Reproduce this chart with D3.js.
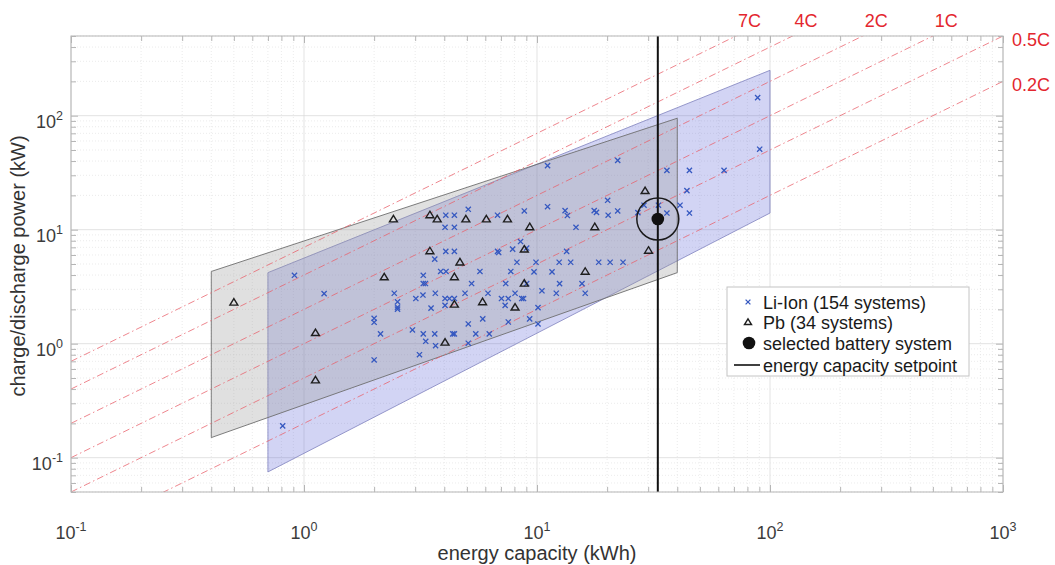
<!DOCTYPE html>
<html>
<head>
<meta charset="utf-8">
<script src="https://cdn.jsdelivr.net/npm/d3@7"></script>
<style>
  body { margin: 0; background: #fff; }
  text { font-family: "Liberation Sans", Arial, Helvetica, sans-serif; }
</style>
</head>
<body>
<svg id="chart" width="1055" height="565"></svg>
<script>
// ---- data ----------------------------------------------------------------
// Li-Ion home storage systems: energy capacity (kWh) and charge/discharge power (kW)
const liIonEnergy = [0.81, 0.91, 1.22, 2.00, 2.00, 2.00, 2.13, 2.44, 2.52, 2.52, 2.52, 2.92, 3.02, 3.13, 3.24,
  3.25, 3.25, 3.32, 3.25, 3.33, 3.51, 3.64, 3.66, 3.64, 3.67, 3.86, 4.07, 4.03, 4.03, 4.21,
  4.42, 4.06, 4.42, 4.03, 4.42, 4.06, 4.42, 4.35, 4.42, 4.91, 5.07, 5.07, 5.07, 5.24, 5.46,
  5.69, 5.85, 6.16, 6.24, 6.77, 6.77, 6.85, 7.04, 7.34, 7.30, 7.53, 7.53, 7.72, 7.86, 8.05,
  8.20, 8.50, 8.60, 8.75, 9.03, 9.03, 8.82, 9.30, 9.71, 9.90, 10.1, 10.1, 10.5, 11.1, 11.1,
  11.6, 12.1, 12.45, 12.5, 13.2, 13.5, 13.4, 13.95, 14.7, 15.6, 16.1, 17.6, 18.0, 18.4, 20.1,
  20.2, 20.6, 22.2, 22.2, 23.4, 27.1, 28.8, 33.2, 36.1, 36.1, 41.1, 44.0, 45.1, 45.1, 63.5,
  88.5, 90.3];
const liIonPower = [0.19, 3.98, 2.75, 1.67, 1.54, 0.72, 1.22, 2.77, 2.33, 2.09, 2.01, 1.32, 2.49, 0.80, 2.67,
  3.98, 3.37, 3.37, 1.22, 1.05, 2.05, 5.52, 2.77, 1.22, 0.96, 4.30, 4.30, 2.49, 2.17, 2.49,
  2.49, 6.46, 6.46, 10.5, 10.5, 13.4, 13.4, 1.22, 1.22, 2.77, 15.1, 1.49, 1.01, 3.37, 1.22,
  4.30, 1.65, 2.77, 1.22, 13.4, 6.46, 6.30, 2.49, 3.37, 2.17, 2.49, 1.55, 4.30, 6.75, 2.77,
  5.18, 7.87, 2.49, 2.49, 6.90, 3.37, 14.6, 1.65, 4.26, 5.18, 2.07, 1.49, 2.91, 36.5, 15.9,
  4.26, 2.77, 5.18, 3.36, 14.7, 13.3, 6.45, 5.18, 10.5, 3.36, 2.77, 14.7, 14.2, 5.18, 18.1,
  13.4, 5.18, 40.5, 14.6, 5.18, 14.1, 16.4, 16.4, 33.1, 14.0, 16.4, 22.0, 33.1, 14.0, 33.1,
  144, 50.8];

// Lead-acid (Pb) systems
const pbEnergy = [0.50, 1.12, 1.12, 2.21, 2.42, 3.47, 3.73, 4.95, 6.06, 7.47, 9.31, 17.7, 29.1, 30.1,
  8.82, 4.67, 3.47, 16.1, 8.82, 5.84, 4.42, 4.42, 8.05, 4.03];
const pbPower = [2.31, 1.25, 0.48, 3.85, 12.4, 13.5, 12.4, 12.4, 12.4, 12.4, 10.6, 10.6, 22.0, 6.59,
  6.75, 5.2, 6.52, 4.31, 3.39, 2.33, 3.86, 2.22, 2.09, 1.03];

// Market regions (outline vertices, kWh / kW)
const liIonRegionEnergy = [0.7, 100, 100, 0.7];
const liIonRegionPower  = [4.2, 250, 14, 0.075];
const pbRegionEnergy = [0.4, 40, 40, 0.4];
const pbRegionPower  = [4.3, 95, 4.2, 0.15];

// C-rate reference lines (P = rate * E)
const cRates = [7, 4, 2, 1, 0.5, 0.2];
const cRateLabels = ["7C", "4C", "2C", "1C", "0.5C", "0.2C"];

// Setpoint and selected system
const capacitySetpoint = 33;
const selectedSystem = { energy: 33, power: 12.4 };

// Axis decades
const xDecades = [-1, 0, 1, 2, 3];
const yDecades = [-1, 0, 1, 2];

const legendLabels = ["Li-Ion (154 systems)", "Pb (34 systems)", "selected battery system", "energy capacity setpoint"];

// ---- layout --------------------------------------------------------------
const box = { left: 71, right: 1003, top: 36, bottom: 492 };
const svg = d3.select("#chart");

const x = d3.scaleLog().domain([0.1, 1000]).range([box.left, box.right]);
const y = d3.scaleLog().domain([0.05, 500]).range([box.bottom, box.top]);

svg.append("defs").append("clipPath").attr("id", "plotclip")
  .append("rect").attr("x", box.left).attr("y", box.top)
  .attr("width", box.right - box.left).attr("height", box.bottom - box.top);

// ---- grid ----------------------------------------------------------------
const isDecade = v => Math.abs(Math.log10(v) - Math.round(Math.log10(v))) < 1e-9;
const xTicksAll = x.ticks();
const yTicksAll = y.ticks();
const grid = svg.append("g");
grid.selectAll("line.gx").data(xTicksAll).join("line")
  .attr("x1", d => x(d)).attr("x2", d => x(d))
  .attr("y1", box.top).attr("y2", box.bottom)
  .attr("stroke", d => isDecade(d) ? "#dcdcdc" : "#e6e6e6")
  .attr("stroke-width", 0.8)
  .attr("stroke-dasharray", d => isDecade(d) ? null : "1,2");
grid.selectAll("line.gy").data(yTicksAll).join("line")
  .attr("y1", d => y(d)).attr("y2", d => y(d))
  .attr("x1", box.left).attr("x2", box.right)
  .attr("stroke", d => isDecade(d) ? "#dcdcdc" : "#e6e6e6")
  .attr("stroke-width", 0.8)
  .attr("stroke-dasharray", d => isDecade(d) ? null : "1,2");

// ---- regions -------------------------------------------------------------
const plotArea = svg.append("g").attr("clip-path", "url(#plotclip)");
const regionLine = d3.line().x(d => x(d[0])).y(d => y(d[1]));

plotArea.append("path")
  .attr("d", regionLine(d3.zip(liIonRegionEnergy, liIonRegionPower)) + "Z")
  .attr("fill", "rgb(90,95,215)").attr("fill-opacity", 0.27)
  .attr("stroke", "#8a8cc4").attr("stroke-width", 0.9);

plotArea.append("path")
  .attr("d", regionLine(d3.zip(pbRegionEnergy, pbRegionPower)) + "Z")
  .attr("fill", "#999").attr("fill-opacity", 0.3)
  .attr("stroke", "#6e6e6e").attr("stroke-width", 0.9);

// ---- C-rate lines --------------------------------------------------------
const eSpan = x.domain();
cRates.forEach(r => {
  plotArea.append("path")
    .attr("d", regionLine(eSpan.map(e => [e, r * e])))
    .attr("fill", "none")
    .attr("stroke", "#e8606a").attr("stroke-opacity", 0.85)
    .attr("stroke-width", 0.9)
    .attr("stroke-dasharray", "7,3,1.5,3");
});

const pMax = y.domain()[1], eMax = x.domain()[1];
cRates.forEach((r, i) => {
  const t = svg.append("text")
    .attr("fill", "#e3262e").attr("font-size", 18)
    .text(cRateLabels[i]);
  if (r * eMax > pMax) {
    t.attr("x", x(pMax / r) + 2).attr("y", 27);
  } else {
    t.attr("x", box.right + 9).attr("y", y(r * eMax) + 10);
  }
});

// ---- markers -------------------------------------------------------------
const pts = svg.append("g");
const crossPath = s => `M${-s},${-s}L${s},${s}M${-s},${s}L${s},${-s}`;
pts.selectAll("path.li").data(d3.zip(liIonEnergy, liIonPower)).join("path")
  .attr("transform", d => `translate(${x(d[0])},${y(d[1])})`)
  .attr("d", crossPath(2.6))
  .attr("stroke", "#3558c0").attr("stroke-width", 1.3).attr("fill", "none");

const triPath = s => `M0,${-s}L${s * 1.1},${s * 0.8}L${-s * 1.1},${s * 0.8}Z`;
pts.selectAll("path.pb").data(d3.zip(pbEnergy, pbPower)).join("path")
  .attr("transform", d => `translate(${x(d[0])},${y(d[1])})`)
  .attr("d", triPath(3.6))
  .attr("stroke", "#1e1e1e").attr("stroke-width", 1.4).attr("fill", "none");

// setpoint line
svg.append("line")
  .attr("x1", x(capacitySetpoint)).attr("x2", x(capacitySetpoint))
  .attr("y1", box.top).attr("y2", box.bottom)
  .attr("stroke", "#111").attr("stroke-width", 2);

// selected system
svg.append("circle")
  .attr("cx", x(selectedSystem.energy)).attr("cy", y(selectedSystem.power))
  .attr("r", 21).attr("fill", "none").attr("stroke", "#1a1a1a").attr("stroke-width", 1.5);
svg.append("circle")
  .attr("cx", x(selectedSystem.energy)).attr("cy", y(selectedSystem.power))
  .attr("r", 6.3).attr("fill", "#111");

// ---- axes ----------------------------------------------------------------
const axisColor = "#b5b5b5";
const axes = svg.append("g");
function styleAxis(g) {
  g.select(".domain").remove();
  g.selectAll(".tick line").attr("stroke", axisColor);
  g.selectAll(".tick text").remove();
}
const xMajor = xDecades.map(k => Math.pow(10, k));
const yMajor = yDecades.map(k => Math.pow(10, k));
const xMinor = xTicksAll.filter(d => !isDecade(d));
const yMinor = yTicksAll.filter(d => !isDecade(d));

[[d3.axisBottom, box.bottom], [d3.axisTop, box.top]].forEach(([ax, pos]) => {
  axes.append("g").attr("transform", `translate(0,${pos})`)
    .call(ax(x).tickValues(xMajor).tickSize(-7)).call(styleAxis);
  axes.append("g").attr("transform", `translate(0,${pos})`)
    .call(ax(x).tickValues(xMinor).tickSize(-5)).call(styleAxis);
});
[[d3.axisLeft, box.left], [d3.axisRight, box.right]].forEach(([ax, pos]) => {
  axes.append("g").attr("transform", `translate(${pos},0)`)
    .call(ax(y).tickValues(yMajor).tickSize(-7)).call(styleAxis);
  axes.append("g").attr("transform", `translate(${pos},0)`)
    .call(ax(y).tickValues(yMinor).tickSize(-5)).call(styleAxis);
});

axes.append("rect")
  .attr("x", box.left).attr("y", box.top)
  .attr("width", box.right - box.left).attr("height", box.bottom - box.top)
  .attr("fill", "none").attr("stroke", axisColor).attr("stroke-width", 1);

// tick labels: 10^k
function powerLabel(t, k) {
  t.append("tspan").text("10");
  t.append("tspan").attr("dy", -8).attr("font-size", 12.5).text(k);
}
xDecades.forEach(k => {
  const t = axes.append("text")
    .attr("x", x(Math.pow(10, k))).attr("y", 539)
    .attr("text-anchor", "middle").attr("font-size", 18).attr("fill", "#3c3c3c");
  powerLabel(t, k);
});
yDecades.forEach(k => {
  const t = axes.append("text")
    .attr("x", 63).attr("y", y(Math.pow(10, k)) + 12)
    .attr("text-anchor", "end").attr("font-size", 18).attr("fill", "#3c3c3c");
  powerLabel(t, k);
});

// axis titles
svg.append("text")
  .attr("x", (box.left + box.right) / 2).attr("y", 560)
  .attr("text-anchor", "middle").attr("font-size", 20).attr("fill", "#333")
  .text("energy capacity (kWh)");
svg.append("text")
  .attr("transform", `translate(25,${(box.top + box.bottom) / 2 + 2}) rotate(-90)`)
  .attr("text-anchor", "middle").attr("font-size", 20).attr("fill", "#333")
  .text("charge/discharge power (kW)");

// ---- legend --------------------------------------------------------------
const lg = svg.append("g").attr("transform", "translate(727,287)");
lg.append("rect").attr("width", 242).attr("height", 89)
  .attr("fill", "#fff").attr("stroke", "#c4c4c4").attr("stroke-width", 1);
const rowY = [15, 35, 56, 78];
lg.append("path").attr("transform", `translate(21,${rowY[0]})`)
  .attr("d", crossPath(2.4)).attr("stroke", "#3558c0").attr("stroke-width", 1.3).attr("fill", "none");
lg.append("path").attr("transform", `translate(21,${rowY[1]})`)
  .attr("d", triPath(3.2)).attr("stroke", "#1e1e1e").attr("stroke-width", 1.4).attr("fill", "none");
lg.append("circle").attr("cx", 22).attr("cy", rowY[2]).attr("r", 6.3).attr("fill", "#111");
lg.append("line").attr("x1", 7).attr("x2", 33).attr("y1", rowY[3]).attr("y2", rowY[3])
  .attr("stroke", "#111").attr("stroke-width", 1.6);
legendLabels.forEach((s, i) => {
  lg.append("text").attr("x", 36).attr("y", rowY[i] + 6.5)
    .attr("font-size", 18).attr("fill", "#1a1a1a").text(s);
});
</script>
</body>
</html>
